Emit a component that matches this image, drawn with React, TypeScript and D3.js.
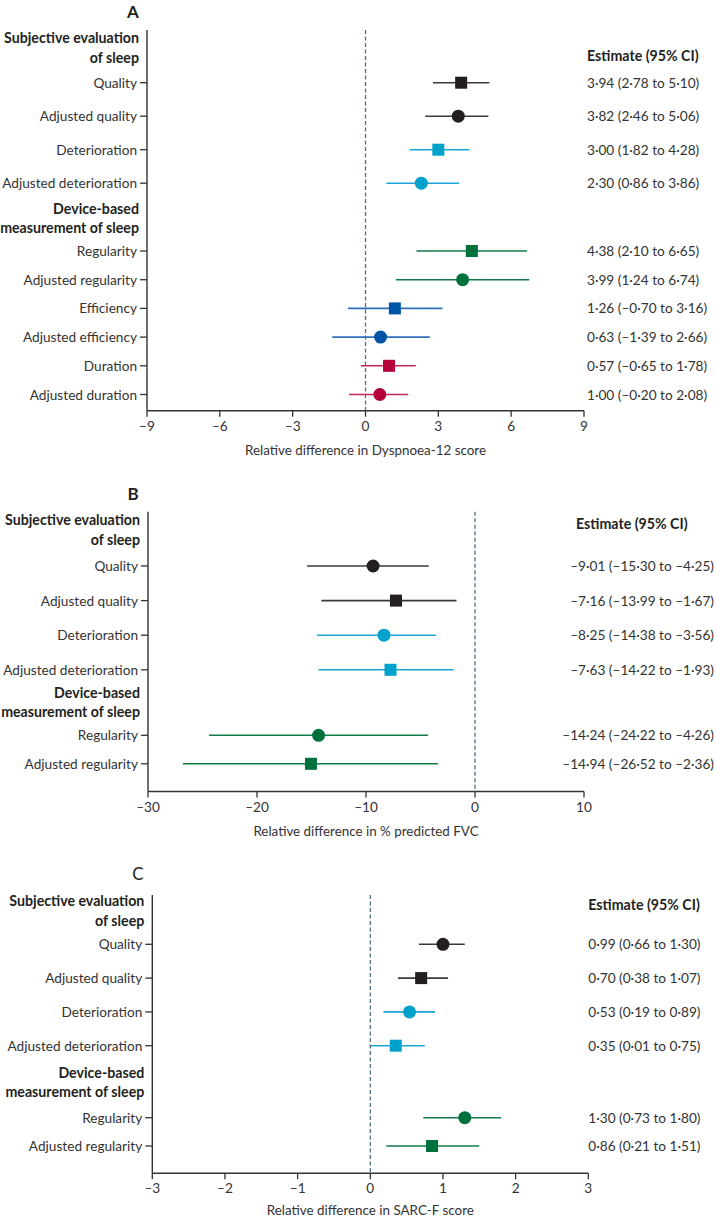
import React from 'react';
import * as d3 from 'd3';

const FONT = 'Lato, "Open Sans", sans-serif';

// ---------- data ----------
const categoriesA = ['Quality', 'Adjusted quality', 'Deterioration', 'Adjusted deterioration', 'Regularity', 'Adjusted regularity', 'Efficiency', 'Adjusted efficiency', 'Duration', 'Adjusted duration'];
const shapesA = ['square', 'circle', 'square', 'circle', 'square', 'circle', 'square', 'circle', 'square', 'circle'];
const colorKeysA = ['black', 'black', 'cyan', 'cyan', 'green', 'green', 'blue', 'blue', 'red', 'red'];
const estA = [3.94, 3.82, 3.0, 2.3, 4.38, 4.0, 1.21, 0.62, 0.97, 0.59];
const lowA = [2.78, 2.46, 1.82, 0.86, 2.1, 1.25, -0.72, -1.37, -0.19, -0.68];
const highA = [5.1, 5.06, 4.28, 3.86, 6.65, 6.74, 3.17, 2.65, 2.07, 1.76];
const labelsA = ['3·94 (2·78 to 5·10)', '3·82 (2·46 to 5·06)', '3·00 (1·82 to 4·28)', '2·30 (0·86 to 3·86)', '4·38 (2·10 to 6·65)', '3·99 (1·24 to 6·74)', '1·26 (–0·70 to 3·16)', '0·63 (–1·39 to 2·66)', '0·57 (–0·65 to 1·78)', '1·00 (–0·20 to 2·08)'];
const ticksA = [-9, -6, -3, 0, 3, 6, 9];

const categoriesB = ['Quality', 'Adjusted quality', 'Deterioration', 'Adjusted deterioration', 'Regularity', 'Adjusted regularity'];
const shapesB = ['circle', 'square', 'circle', 'square', 'circle', 'square'];
const colorKeysB = ['black', 'black', 'cyan', 'cyan', 'green', 'green'];
const estB = [-9.35, -7.25, -8.35, -7.75, -14.35, -15.05];
const lowB = [-15.4, -14.1, -14.5, -14.35, -24.4, -26.8];
const highB = [-4.25, -1.7, -3.6, -1.95, -4.3, -3.4];
const labelsB = ['–9·01 (–15·30 to –4·25)', '–7·16 (–13·99 to –1·67)', '–8·25 (–14·38 to –3·56)', '–7·63 (–14·22 to –1·93)', '–14·24 (–24·22 to –4·26)', '–14·94 (–26·52 to –2·36)'];
const ticksB = [-30, -20, -10, 0, 10];

const categoriesC = categoriesB;
const shapesC = ['circle', 'square', 'circle', 'square', 'circle', 'square'];
const colorKeysC = ['black', 'black', 'cyan', 'cyan', 'green', 'green'];
const estC = [1.0, 0.7, 0.54, 0.35, 1.3, 0.85];
const lowC = [0.67, 0.38, 0.18, 0.01, 0.73, 0.22];
const highC = [1.3, 1.07, 0.89, 0.75, 1.8, 1.5];
const labelsC = ['0·99 (0·66 to 1·30)', '0·70 (0·38 to 1·07)', '0·53 (0·19 to 0·89)', '0·35 (0·01 to 0·75)', '1·30 (0·73 to 1·80)', '0·86 (0·21 to 1·51)'];
const ticksC = [-3, -2, -1, 0, 1, 2, 3];

const MARKER: Record<string, string> = {
  black: '#231f20', cyan: '#00a1cb', green: '#00703c', blue: '#0056a6', red: '#b5003b',
};
const LINE: Record<string, string> = {
  black: '#3a3a3a', cyan: '#1aa6d4', green: '#127a47', blue: '#2f6fb8', red: '#c22a55',
};

const fmtTick = (v: number) => (v < 0 ? '–' + Math.abs(v) : String(v));

type PanelProps = {
  letter: string; letterX: number; letterY: number; letterBold: boolean;
  cats: string[]; shapes: string[]; colors: string[];
  est: number[]; low: number[]; high: number[]; labels: string[]; ticks: number[];
  axisTitle: string; axisTitleDy: number;
  x0: number; x1: number; yTop: number; yAxis: number;
  subFirst: number; subStep: number; devFirst: number; devStep: number;
  subTitleY: number; devTitleY: number;
  estX: number; estHeaderX: number; estHeaderY: number; estAnchor: 'start' | 'end';
};

function Panel(p: PanelProps) {
  const x = d3.scaleLinear().domain([p.ticks[0], p.ticks[p.ticks.length - 1]]).range([p.x0, p.x1]);
  const ySub = d3.scaleLinear().domain([0, 1]).range([p.subFirst, p.subFirst + p.subStep]);
  const yDev = d3.scaleLinear().domain([4, 5]).range([p.devFirst, p.devFirst + p.devStep]);
  const y = (i: number) => (i < 4 ? ySub(i) : yDev(i));
  const size = 12;
  const fs = 13.65;
  const fsBold = 14.2;
  return (
    <g fontFamily={FONT}>
      <text x={p.letterX} y={p.letterY} fontSize={17} fontWeight={p.letterBold ? 700 : 400} fill="#231f20" textAnchor="middle" dominantBaseline="central">{p.letter}</text>
      {/* group titles */}
      <text x={p.x0 - 8} y={p.subTitleY} fontSize={fsBold} fontWeight={700} fill="#231f20" textAnchor="end" dominantBaseline="central">Subjective evaluation</text>
      <text x={p.x0 - 8} y={p.subTitleY + 20} fontSize={fsBold} fontWeight={700} fill="#231f20" textAnchor="end" dominantBaseline="central">of sleep</text>
      <text x={p.x0 - 8} y={p.devTitleY} fontSize={fsBold} fontWeight={700} fill="#231f20" textAnchor="end" dominantBaseline="central">Device-based</text>
      <text x={p.x0 - 8} y={p.devTitleY + 19} fontSize={fsBold} fontWeight={700} fill="#231f20" textAnchor="end" dominantBaseline="central">measurement of sleep</text>
      {/* y axis */}
      <line x1={p.x0} x2={p.x0} y1={p.yTop} y2={p.yAxis} stroke="#333" strokeWidth={1.4} />
      {p.cats.map((c, i) => (
        <g key={c}>
          <line x1={p.x0 - 7} x2={p.x0} y1={y(i)} y2={y(i)} stroke="#333" strokeWidth={1.3} />
          <text x={p.x0 - 10} y={y(i)} fontSize={fs} fill="#333" textAnchor="end" dominantBaseline="central">{c}</text>
        </g>
      ))}
      {/* x axis */}
      <line x1={p.x0} x2={p.x1} y1={p.yAxis} y2={p.yAxis} stroke="#333" strokeWidth={1.4} />
      {p.ticks.map((t) => (
        <g key={t}>
          <line x1={x(t)} x2={x(t)} y1={p.yAxis} y2={p.yAxis + 6} stroke="#333" strokeWidth={1.3} />
          <text x={x(t)} y={p.yAxis + 15} fontSize={fs} fill="#333" textAnchor="middle" dominantBaseline="central">{fmtTick(t)}</text>
        </g>
      ))}
      <text x={(p.x0 + p.x1) / 2} y={p.yAxis + p.axisTitleDy} fontSize={13.4} fill="#333" textAnchor="middle" dominantBaseline="central">{p.axisTitle}</text>
      {/* zero line */}
      <line x1={x(0)} x2={x(0)} y1={p.yTop} y2={p.yAxis} stroke="#4f6f7f" strokeWidth={1.3} strokeDasharray="4 2.5" />
      {/* CI + markers */}
      {p.cats.map((c, i) => (
        <g key={'m' + c}>
          <line x1={x(p.low[i])} x2={x(p.high[i])} y1={y(i)} y2={y(i)} stroke={LINE[p.colors[i]]} strokeWidth={1.6} />
          {p.shapes[i] === 'square' ? (
            <rect x={x(p.est[i]) - size / 2} y={y(i) - size / 2} width={size} height={size} fill={MARKER[p.colors[i]]} />
          ) : (
            <circle cx={x(p.est[i])} cy={y(i)} r={size / 2 + 0.5} fill={MARKER[p.colors[i]]} />
          )}
        </g>
      ))}
      {/* estimates */}
      <text x={p.estHeaderX} y={p.estHeaderY} fontSize={fsBold} fontWeight={700} fill="#231f20" dominantBaseline="central">Estimate (95% CI)</text>
      {p.labels.map((l, i) => (
        <text key={'l' + i} x={p.estX} y={y(i)} fontSize={fs} fill="#333" textAnchor={p.estAnchor} dominantBaseline="central">{l}</text>
      ))}
    </g>
  );
}

export default function App() {
  return (
    <svg width={716} height={1217} style={{ position: 'absolute', left: 0, top: 0, background: '#fff' }}>
      <rect width={716} height={1217} fill="#fff" />
      <Panel letter="A" letterX={133} letterY={11} letterBold
        cats={categoriesA} shapes={shapesA} colors={colorKeysA} est={estA} low={lowA} high={highA} labels={labelsA} ticks={ticksA}
        axisTitle="Relative difference in Dyspnoea-12 score" axisTitleDy={39}
        x0={147} x1={584} yTop={30} yAxis={410.7}
        subFirst={82.7} subStep={33.5} devFirst={251} devStep={28.7}
        subTitleY={37} devTitleY={208}
        estX={587} estHeaderX={587} estHeaderY={55} estAnchor="start" />
      <Panel letter="B" letterX={133} letterY={493} letterBold
        cats={categoriesB} shapes={shapesB} colors={colorKeysB} est={estB} low={lowB} high={highB} labels={labelsB} ticks={ticksB}
        axisTitle="Relative difference in % predicted FVC" axisTitleDy={39}
        x0={148} x1={584} yTop={511.7} yAxis={791.5}
        subFirst={566} subStep={34.6} devFirst={735.3} devStep={28.5}
        subTitleY={519} devTitleY={692}
        estX={714} estHeaderX={576} estHeaderY={523.3} estAnchor="end" />
      <Panel letter="C" letterX={138} letterY={873} letterBold={false}
        cats={categoriesC} shapes={shapesC} colors={colorKeysC} est={estC} low={lowC} high={highC} labels={labelsC} ticks={ticksC}
        axisTitle="Relative difference in SARC-F score" axisTitleDy={37}
        x0={152.3} x1={588.3} yTop={895} yAxis={1173.3}
        subFirst={944.3} subStep={33.8} devFirst={1117.7} devStep={28.3}
        subTitleY={900.7} devTitleY={1072.7}
        estX={588.3} estHeaderX={588.3} estHeaderY={904} estAnchor="start" />
    </svg>
  );
}
